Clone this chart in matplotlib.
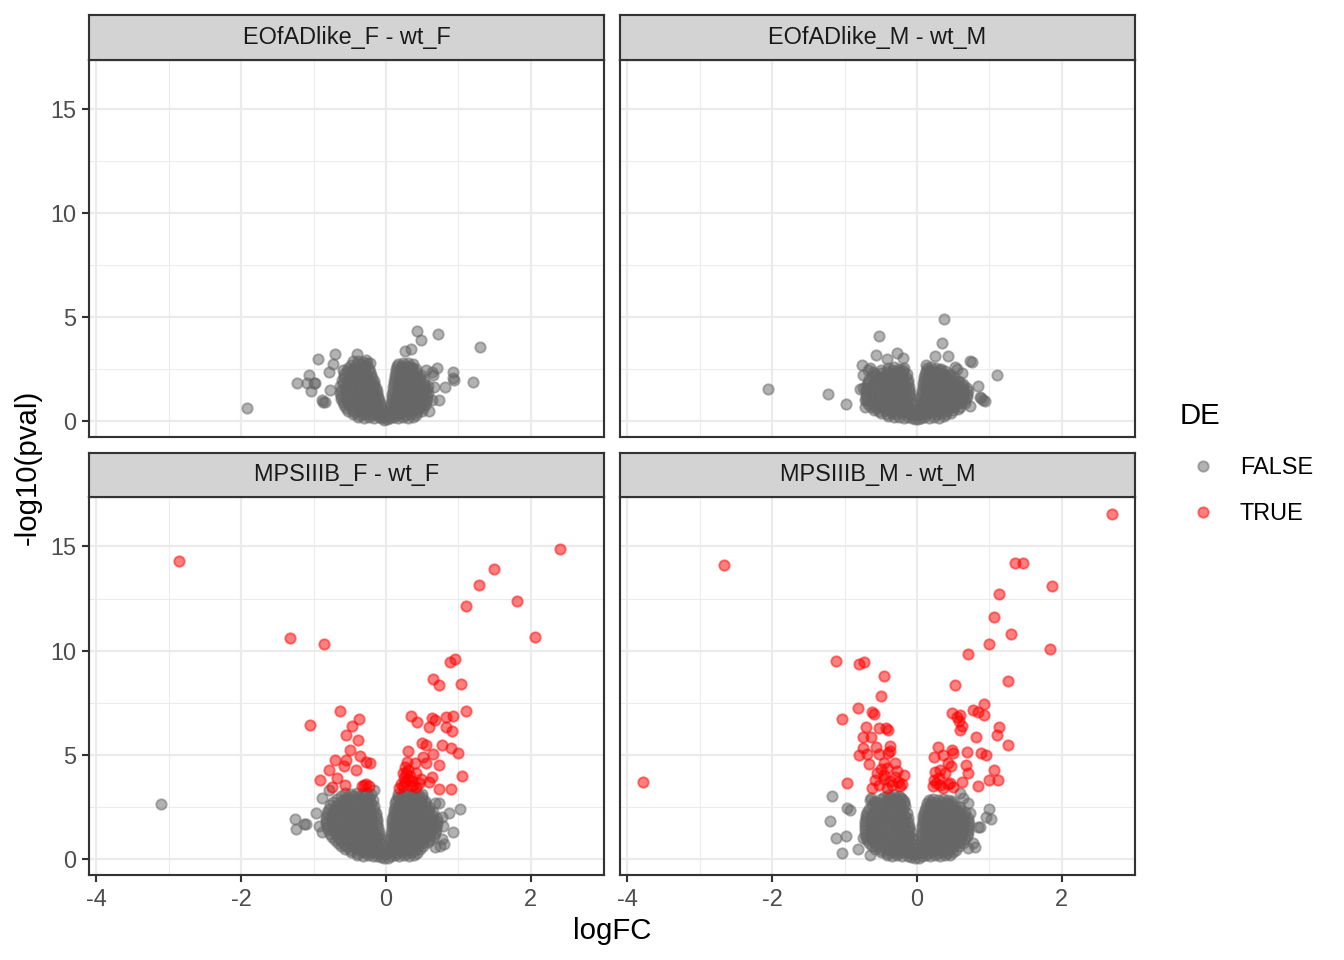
import numpy as np
import matplotlib
matplotlib.use("Agg")
import matplotlib.pyplot as plt
from matplotlib.colors import to_rgba
from matplotlib.lines import Line2D

plt.rcParams['font.family'] = ['Liberation Sans', 'DejaVu Sans']

# Data ------------------------------------------------------------------------

panel_titles = ["EOfADlike_F - wt_F", "EOfADlike_M - wt_M",
                "MPSIIIB_F - wt_F", "MPSIIIB_M - wt_M"]
de_levels = ["FALSE", "TRUE"]
de_colors = ["#666666", "#ff0000"]

# (logFC, -log10(pval)) per contrast, split by DE
ef_f_false = [
    (-1.92, 0.62), (0.43, 4.34), (0.72, 4.17), (0.48, 3.89), (1.30, 3.54), (1.21, 1.89),
    (0.93, 2.37), (0.94, 1.97), (0.82, 1.62), (0.74, 1.01), (0.70, 2.53), (0.63, 2.37),
    (0.26, 3.38), (0.35, 3.45), (-0.94, 2.98), (-0.70, 3.22), (-0.40, 3.22), (-0.73, 2.74),
    (-1.07, 2.21), (-1.23, 1.83), (-1.04, 1.46), (-0.87, 0.93), (-0.79, 2.37), (-0.98, 1.84),
    (-1.09, 1.81), (-1.00, 1.81), (-0.88, 1.00), (-0.84, 0.90), (-0.77, 1.49), (-0.59, 2.45),
    (-0.27, 2.93), (-0.22, 2.77), (0.56, 2.45), (0.65, 2.21), (0.67, 1.65), (0.64, 1.00),
    (0.60, 0.50), (0.92, 2.07),
    (-0.38, 0.20), (-0.31, 0.16), (-0.23, 0.19), (-0.16, 0.14), (-0.10, 0.17), (-0.05, 0.12), (-0.02, 0.06),
    (-0.52, 0.47), (-0.44, 0.42), (-0.36, 0.46), (-0.28, 0.43), (-0.21, 0.48), (-0.14, 0.41), (-0.08, 0.44), (-0.04, 0.36),
    (-0.58, 0.77), (-0.50, 0.73), (-0.42, 0.78), (-0.34, 0.72), (-0.27, 0.76), (-0.20, 0.71), (-0.13, 0.77), (-0.07, 0.70),
    (-0.62, 1.07), (-0.54, 1.03), (-0.46, 1.08), (-0.38, 1.02), (-0.30, 1.06), (-0.23, 1.01), (-0.16, 1.07), (-0.10, 1.00),
    (-0.63, 1.36), (-0.55, 1.33), (-0.47, 1.38), (-0.39, 1.32), (-0.31, 1.37), (-0.24, 1.31), (-0.17, 1.36), (-0.12, 1.30),
    (-0.63, 1.66), (-0.55, 1.62), (-0.47, 1.67), (-0.39, 1.61), (-0.31, 1.66), (-0.24, 1.63), (-0.17, 1.68), (-0.14, 1.58),
    (-0.61, 1.96), (-0.53, 1.92), (-0.45, 1.97), (-0.37, 1.91), (-0.30, 1.96), (-0.23, 1.93), (-0.17, 1.90),
    (-0.58, 2.26), (-0.50, 2.22), (-0.42, 2.27), (-0.34, 2.21), (-0.27, 2.25), (-0.20, 2.20),
    (-0.53, 2.56), (-0.45, 2.52), (-0.38, 2.57), (-0.30, 2.51), (-0.23, 2.50),
    (-0.46, 2.86), (-0.39, 2.90), (-0.32, 2.83), (-0.26, 2.78),
    (-0.45, 0.31), (-0.37, 0.29), (-0.30, 0.32), (-0.23, 0.28), (-0.16, 0.31), (-0.10, 0.29), (-0.05, 0.27), (-0.02, 0.22),
    (-0.55, 0.61), (-0.47, 0.58), (-0.39, 0.62), (-0.31, 0.59), (-0.24, 0.61), (-0.17, 0.58), (-0.11, 0.62), (-0.06, 0.56),
    (-0.60, 0.91), (-0.52, 0.88), (-0.44, 0.92), (-0.36, 0.89), (-0.28, 0.91), (-0.21, 0.88), (-0.14, 0.92), (-0.08, 0.86),
    (-0.62, 1.21), (-0.54, 1.18), (-0.46, 1.22), (-0.38, 1.19), (-0.30, 1.21), (-0.23, 1.18), (-0.16, 1.22), (-0.11, 1.16),
    (-0.62, 1.51), (-0.55, 1.48), (-0.47, 1.52), (-0.39, 1.49), (-0.31, 1.51), (-0.24, 1.48), (-0.18, 1.52), (-0.13, 1.46),
    (-0.60, 1.81), (-0.52, 1.78), (-0.44, 1.82), (-0.36, 1.79), (-0.28, 1.81), (-0.21, 1.78), (-0.16, 1.76),
    (-0.58, 2.11), (-0.50, 2.08), (-0.42, 2.12), (-0.34, 2.09), (-0.26, 2.11), (-0.19, 2.06),
    (-0.54, 2.41), (-0.46, 2.38), (-0.38, 2.42), (-0.30, 2.39), (-0.22, 2.36),
    (-0.48, 2.71), (-0.41, 2.68), (-0.34, 2.72), (-0.27, 2.66),
    (0.02, 0.07), (0.06, 0.15), (0.11, 0.19), (0.17, 0.14), (0.24, 0.18), (0.31, 0.13), (0.37, 0.20),
    (0.04, 0.38), (0.09, 0.46), (0.15, 0.42), (0.22, 0.47), (0.29, 0.43), (0.36, 0.48), (0.43, 0.42), (0.50, 0.46),
    (0.06, 0.71), (0.12, 0.77), (0.19, 0.73), (0.26, 0.78), (0.33, 0.72), (0.40, 0.77), (0.47, 0.73), (0.54, 0.76),
    (0.08, 1.01), (0.14, 1.07), (0.21, 1.03), (0.28, 1.08), (0.35, 1.02), (0.42, 1.07), (0.49, 1.03), (0.57, 1.06),
    (0.09, 1.31), (0.16, 1.37), (0.23, 1.33), (0.30, 1.38), (0.37, 1.32), (0.44, 1.37), (0.51, 1.33), (0.58, 1.36),
    (0.10, 1.61), (0.17, 1.67), (0.24, 1.63), (0.31, 1.68), (0.38, 1.62), (0.45, 1.67), (0.52, 1.63), (0.58, 1.66),
    (0.11, 1.91), (0.18, 1.97), (0.25, 1.93), (0.32, 1.98), (0.39, 1.92), (0.46, 1.96), (0.53, 1.92),
    (0.13, 2.21), (0.20, 2.27), (0.27, 2.23), (0.34, 2.28), (0.41, 2.22), (0.48, 2.20),
    (0.14, 2.49), (0.21, 2.55), (0.28, 2.51), (0.35, 2.56), (0.42, 2.48),
    (0.16, 2.76), (0.23, 2.81), (0.30, 2.77), (0.37, 2.74),
    (0.03, 0.26), (0.08, 0.31), (0.14, 0.29), (0.20, 0.32), (0.27, 0.28), (0.34, 0.31), (0.41, 0.29),
    (0.05, 0.56), (0.10, 0.61), (0.16, 0.58), (0.23, 0.62), (0.30, 0.59), (0.37, 0.61), (0.44, 0.58), (0.51, 0.62),
    (0.07, 0.86), (0.13, 0.91), (0.20, 0.88), (0.27, 0.92), (0.34, 0.89), (0.41, 0.91), (0.48, 0.88), (0.55, 0.92),
    (0.08, 1.16), (0.15, 1.21), (0.22, 1.18), (0.29, 1.22), (0.36, 1.19), (0.43, 1.21), (0.50, 1.18), (0.57, 1.22),
    (0.10, 1.46), (0.16, 1.51), (0.23, 1.48), (0.30, 1.52), (0.37, 1.49), (0.44, 1.51), (0.51, 1.48), (0.57, 1.52),
    (0.11, 1.76), (0.18, 1.81), (0.25, 1.78), (0.32, 1.82), (0.39, 1.79), (0.46, 1.81), (0.53, 1.78),
    (0.12, 2.06), (0.19, 2.11), (0.26, 2.08), (0.33, 2.12), (0.40, 2.09), (0.47, 2.07),
    (0.14, 2.36), (0.21, 2.41), (0.28, 2.38), (0.35, 2.42), (0.42, 2.36),
    (0.15, 2.62), (0.22, 2.66), (0.29, 2.63), (0.36, 2.60),
]
ef_f_true = []

ef_m_false = [
    (-2.06, 1.54), (-1.23, 1.31), (-0.98, 0.83), (-0.52, 4.10), (-0.57, 3.16), (-0.28, 3.25),
    (-0.19, 3.01), (-0.42, 2.97), (-0.76, 2.69), (-0.67, 2.45), (-0.74, 2.21), (-0.79, 1.52),
    (0.38, 4.89), (0.35, 3.73), (0.43, 3.13), (0.25, 3.13), (0.13, 2.69), (0.74, 2.90),
    (0.76, 2.85), (0.52, 2.61), (0.62, 2.29), (1.10, 2.23), (0.84, 1.70), (0.89, 1.09),
    (0.94, 0.96), (0.73, 0.72), (-0.65, 2.55), (-0.61, 2.36), (-0.74, 1.59), (-0.72, 1.01),
    (-0.72, 0.69), (0.87, 1.17), (0.91, 1.01), (0.55, 2.50),
    (-0.40, 0.22), (-0.32, 0.17), (-0.25, 0.21), (-0.18, 0.15), (-0.12, 0.19), (-0.07, 0.13), (-0.03, 0.08),
    (-0.60, 0.52), (-0.52, 0.47), (-0.44, 0.51), (-0.36, 0.46), (-0.28, 0.52), (-0.21, 0.47), (-0.14, 0.50), (-0.08, 0.45), (-0.04, 0.40),
    (-0.68, 0.82), (-0.60, 0.77), (-0.52, 0.81), (-0.44, 0.76), (-0.36, 0.82), (-0.28, 0.78), (-0.21, 0.83), (-0.14, 0.77), (-0.07, 0.80),
    (-0.70, 1.12), (-0.62, 1.07), (-0.54, 1.11), (-0.46, 1.06), (-0.38, 1.12), (-0.30, 1.08), (-0.23, 1.13), (-0.16, 1.07), (-0.09, 1.10),
    (-0.70, 1.42), (-0.62, 1.37), (-0.54, 1.41), (-0.46, 1.36), (-0.38, 1.42), (-0.30, 1.38), (-0.23, 1.43), (-0.16, 1.37), (-0.10, 1.34),
    (-0.69, 1.71), (-0.61, 1.67), (-0.53, 1.72), (-0.45, 1.66), (-0.37, 1.71), (-0.29, 1.68), (-0.22, 1.73), (-0.15, 1.67), (-0.11, 1.62),
    (-0.66, 2.01), (-0.58, 1.97), (-0.50, 2.02), (-0.42, 1.96), (-0.34, 2.01), (-0.26, 1.98), (-0.19, 2.03), (-0.13, 1.95),
    (-0.58, 2.28), (-0.50, 2.33), (-0.42, 2.27), (-0.34, 2.32), (-0.26, 2.29), (-0.19, 2.34), (-0.14, 2.26),
    (-0.40, 2.55), (-0.32, 2.58), (-0.25, 2.52), (-0.18, 2.56),
    (-0.50, 0.36), (-0.42, 0.33), (-0.34, 0.37), (-0.27, 0.34), (-0.20, 0.36), (-0.13, 0.33), (-0.08, 0.35), (-0.03, 0.28),
    (-0.64, 0.66), (-0.56, 0.63), (-0.48, 0.67), (-0.40, 0.64), (-0.32, 0.66), (-0.25, 0.63), (-0.18, 0.67), (-0.11, 0.64), (-0.05, 0.60),
    (-0.69, 0.96), (-0.61, 0.93), (-0.53, 0.97), (-0.45, 0.94), (-0.37, 0.96), (-0.29, 0.93), (-0.22, 0.97), (-0.15, 0.94), (-0.08, 0.92),
    (-0.70, 1.26), (-0.62, 1.23), (-0.54, 1.27), (-0.46, 1.24), (-0.38, 1.26), (-0.30, 1.23), (-0.23, 1.27), (-0.16, 1.24), (-0.10, 1.21),
    (-0.70, 1.56), (-0.62, 1.53), (-0.54, 1.57), (-0.46, 1.54), (-0.38, 1.56), (-0.30, 1.53), (-0.23, 1.57), (-0.16, 1.54), (-0.11, 1.50),
    (-0.67, 1.86), (-0.59, 1.83), (-0.51, 1.87), (-0.43, 1.84), (-0.35, 1.86), (-0.27, 1.83), (-0.20, 1.87), (-0.13, 1.82),
    (-0.62, 2.16), (-0.54, 2.13), (-0.46, 2.17), (-0.38, 2.14), (-0.30, 2.16), (-0.22, 2.13), (-0.15, 2.12),
    (-0.50, 2.43), (-0.42, 2.40), (-0.34, 2.44), (-0.26, 2.41), (-0.19, 2.43),
    (0.02, 0.08), (0.05, 0.16), (0.10, 0.20), (0.16, 0.15), (0.23, 0.21), (0.30, 0.16), (0.37, 0.22),
    (0.04, 0.42), (0.08, 0.50), (0.14, 0.46), (0.21, 0.52), (0.28, 0.47), (0.35, 0.51), (0.42, 0.46), (0.50, 0.52), (0.57, 0.55),
    (0.05, 0.76), (0.10, 0.82), (0.17, 0.77), (0.24, 0.83), (0.31, 0.78), (0.38, 0.82), (0.45, 0.77), (0.53, 0.81), (0.61, 0.84), (0.66, 0.88),
    (0.06, 1.06), (0.11, 1.12), (0.18, 1.07), (0.25, 1.13), (0.32, 1.08), (0.39, 1.12), (0.46, 1.07), (0.54, 1.11), (0.62, 1.08), (0.69, 1.13),
    (0.07, 1.36), (0.12, 1.42), (0.19, 1.37), (0.26, 1.43), (0.33, 1.38), (0.40, 1.42), (0.47, 1.37), (0.55, 1.41), (0.63, 1.38), (0.70, 1.42),
    (0.08, 1.66), (0.13, 1.72), (0.20, 1.67), (0.27, 1.73), (0.34, 1.68), (0.41, 1.72), (0.48, 1.67), (0.56, 1.71), (0.64, 1.66),
    (0.10, 1.96), (0.15, 2.02), (0.22, 1.97), (0.29, 2.03), (0.36, 1.98), (0.43, 2.02), (0.50, 1.97), (0.58, 1.94),
    (0.11, 2.26), (0.17, 2.32), (0.24, 2.27), (0.31, 2.33), (0.38, 2.28), (0.45, 2.25),
    (0.14, 2.54), (0.20, 2.58), (0.27, 2.53), (0.33, 2.50),
    (0.03, 0.31), (0.07, 0.36), (0.12, 0.33), (0.19, 0.37), (0.26, 0.34), (0.33, 0.36), (0.40, 0.33), (0.47, 0.37),
    (0.04, 0.61), (0.09, 0.66), (0.15, 0.63), (0.22, 0.67), (0.29, 0.64), (0.36, 0.66), (0.43, 0.63), (0.51, 0.67), (0.59, 0.69),
    (0.05, 0.91), (0.10, 0.96), (0.17, 0.93), (0.24, 0.97), (0.31, 0.94), (0.38, 0.96), (0.45, 0.93), (0.53, 0.97), (0.61, 0.94), (0.67, 0.99),
    (0.06, 1.21), (0.12, 1.26), (0.19, 1.23), (0.26, 1.27), (0.33, 1.24), (0.40, 1.26), (0.47, 1.23), (0.55, 1.27), (0.63, 1.24), (0.69, 1.28),
    (0.07, 1.51), (0.13, 1.56), (0.20, 1.53), (0.27, 1.57), (0.34, 1.54), (0.41, 1.56), (0.48, 1.53), (0.56, 1.57), (0.64, 1.54), (0.69, 1.57),
    (0.09, 1.81), (0.14, 1.86), (0.21, 1.83), (0.28, 1.87), (0.35, 1.84), (0.42, 1.86), (0.49, 1.83), (0.57, 1.85), (0.63, 1.80),
    (0.10, 2.11), (0.16, 2.16), (0.23, 2.13), (0.30, 2.17), (0.37, 2.14), (0.44, 2.15), (0.51, 2.10),
    (0.12, 2.39), (0.18, 2.43), (0.25, 2.40), (0.32, 2.44), (0.39, 2.39),
]
ef_m_true = []

mp_f_false = [
    (-3.11, 2.65), (-1.26, 1.89), (-1.24, 1.41), (-1.13, 1.65), (-1.10, 1.67), (-0.96, 2.21),
    (1.02, 2.40), (0.93, 1.30), (0.77, 2.00), (0.79, 1.60), (0.78, 0.95), (0.80, 0.70),
    (-0.88, 2.90), (-0.88, 1.30), (-0.92, 1.60), (-0.78, 3.30), (-0.16, 3.30), (0.68, 2.66),
    (0.73, 2.66), (0.87, 2.18), (0.68, 0.58), (0.75, 0.63),
    (-0.40, 0.18), (-0.32, 0.13), (-0.25, 0.17), (-0.18, 0.12), (-0.12, 0.16), (-0.07, 0.10), (-0.03, 0.05),
    (-0.56, 0.47), (-0.48, 0.42), (-0.40, 0.46), (-0.32, 0.41), (-0.25, 0.47), (-0.18, 0.43), (-0.12, 0.48), (-0.07, 0.40), (-0.04, 0.33),
    (-0.66, 0.77), (-0.58, 0.72), (-0.50, 0.76), (-0.42, 0.71), (-0.34, 0.77), (-0.27, 0.73), (-0.20, 0.78), (-0.13, 0.72), (-0.07, 0.70),
    (-0.74, 1.07), (-0.66, 1.02), (-0.58, 1.06), (-0.50, 1.01), (-0.42, 1.07), (-0.34, 1.03), (-0.27, 1.08), (-0.20, 1.02), (-0.13, 1.06), (-0.08, 1.00),
    (-0.80, 1.37), (-0.72, 1.32), (-0.64, 1.36), (-0.56, 1.31), (-0.48, 1.37), (-0.40, 1.33), (-0.32, 1.38), (-0.25, 1.32), (-0.18, 1.36), (-0.10, 1.30),
    (-0.83, 1.67), (-0.75, 1.62), (-0.67, 1.66), (-0.59, 1.61), (-0.51, 1.67), (-0.43, 1.63), (-0.35, 1.68), (-0.28, 1.62), (-0.21, 1.66), (-0.12, 1.62),
    (-0.83, 1.97), (-0.75, 1.92), (-0.67, 1.96), (-0.59, 1.91), (-0.51, 1.97), (-0.43, 1.93), (-0.35, 1.98), (-0.28, 1.92), (-0.21, 1.96), (-0.13, 1.92),
    (-0.81, 2.27), (-0.73, 2.22), (-0.65, 2.26), (-0.57, 2.21), (-0.49, 2.27), (-0.41, 2.23), (-0.33, 2.28), (-0.26, 2.22), (-0.20, 2.26), (-0.14, 2.20),
    (-0.77, 2.57), (-0.69, 2.52), (-0.61, 2.56), (-0.53, 2.51), (-0.45, 2.57), (-0.37, 2.53), (-0.30, 2.58), (-0.23, 2.52), (-0.17, 2.55),
    (-0.68, 2.87), (-0.60, 2.82), (-0.52, 2.86), (-0.44, 2.81), (-0.36, 2.87), (-0.29, 2.83), (-0.23, 2.88), (-0.18, 2.82),
    (-0.56, 3.17), (-0.48, 3.12), (-0.40, 3.16), (-0.33, 3.12), (-0.26, 3.18), (-0.21, 3.13),
    (-0.48, 0.31), (-0.40, 0.28), (-0.32, 0.32), (-0.25, 0.29), (-0.18, 0.31), (-0.12, 0.28), (-0.07, 0.30), (-0.03, 0.22),
    (-0.62, 0.61), (-0.54, 0.58), (-0.46, 0.62), (-0.38, 0.59), (-0.30, 0.61), (-0.23, 0.58), (-0.16, 0.62), (-0.10, 0.59), (-0.05, 0.54),
    (-0.70, 0.91), (-0.62, 0.88), (-0.54, 0.92), (-0.46, 0.89), (-0.38, 0.91), (-0.30, 0.88), (-0.23, 0.92), (-0.16, 0.89), (-0.10, 0.86),
    (-0.77, 1.21), (-0.69, 1.18), (-0.61, 1.22), (-0.53, 1.19), (-0.45, 1.21), (-0.37, 1.18), (-0.30, 1.22), (-0.23, 1.19), (-0.16, 1.21), (-0.09, 1.16),
    (-0.81, 1.51), (-0.73, 1.48), (-0.65, 1.52), (-0.57, 1.49), (-0.49, 1.51), (-0.41, 1.48), (-0.33, 1.52), (-0.26, 1.49), (-0.19, 1.51), (-0.11, 1.46),
    (-0.83, 1.81), (-0.75, 1.78), (-0.67, 1.82), (-0.59, 1.79), (-0.51, 1.81), (-0.43, 1.78), (-0.35, 1.82), (-0.28, 1.79), (-0.20, 1.81), (-0.13, 1.77),
    (-0.82, 2.11), (-0.74, 2.08), (-0.66, 2.12), (-0.58, 2.09), (-0.50, 2.11), (-0.42, 2.08), (-0.34, 2.12), (-0.27, 2.09), (-0.20, 2.11), (-0.14, 2.06),
    (-0.79, 2.41), (-0.71, 2.38), (-0.63, 2.42), (-0.55, 2.39), (-0.47, 2.41), (-0.39, 2.38), (-0.31, 2.42), (-0.24, 2.39), (-0.17, 2.37),
    (-0.73, 2.71), (-0.65, 2.68), (-0.57, 2.72), (-0.49, 2.69), (-0.41, 2.71), (-0.33, 2.68), (-0.26, 2.72), (-0.20, 2.67),
    (-0.62, 3.01), (-0.54, 2.98), (-0.46, 3.02), (-0.38, 2.99), (-0.30, 3.01), (-0.24, 2.97),
    (0.03, 0.06), (0.07, 0.13), (0.12, 0.17), (0.18, 0.12), (0.25, 0.18), (0.32, 0.13), (0.39, 0.17),
    (0.04, 0.36), (0.08, 0.45), (0.13, 0.41), (0.19, 0.47), (0.26, 0.42), (0.33, 0.46), (0.40, 0.41), (0.47, 0.47),
    (0.05, 0.70), (0.10, 0.77), (0.16, 0.72), (0.23, 0.78), (0.30, 0.73), (0.37, 0.77), (0.44, 0.72), (0.51, 0.76), (0.58, 0.80),
    (0.06, 1.01), (0.11, 1.07), (0.18, 1.02), (0.25, 1.08), (0.32, 1.03), (0.39, 1.07), (0.46, 1.02), (0.53, 1.06), (0.61, 1.03), (0.67, 1.08),
    (0.07, 1.31), (0.12, 1.37), (0.19, 1.32), (0.26, 1.38), (0.33, 1.33), (0.40, 1.37), (0.47, 1.32), (0.54, 1.36), (0.62, 1.33), (0.69, 1.38),
    (0.08, 1.61), (0.13, 1.67), (0.20, 1.62), (0.27, 1.68), (0.34, 1.63), (0.41, 1.67), (0.48, 1.62), (0.55, 1.66), (0.63, 1.63), (0.70, 1.68),
    (0.09, 1.91), (0.14, 1.97), (0.21, 1.92), (0.28, 1.98), (0.35, 1.93), (0.42, 1.97), (0.49, 1.92), (0.56, 1.96), (0.64, 1.93), (0.70, 1.98),
    (0.11, 2.21), (0.16, 2.27), (0.23, 2.22), (0.30, 2.28), (0.37, 2.23), (0.44, 2.27), (0.51, 2.22), (0.58, 2.26), (0.65, 2.23),
    (0.12, 2.51), (0.18, 2.57), (0.25, 2.52), (0.32, 2.58), (0.39, 2.53), (0.46, 2.57), (0.53, 2.52), (0.60, 2.50),
    (0.14, 2.81), (0.20, 2.87), (0.27, 2.82), (0.34, 2.88), (0.41, 2.83), (0.48, 2.86), (0.54, 2.80),
    (0.17, 3.12), (0.23, 3.17), (0.30, 3.13), (0.37, 3.18), (0.44, 3.12), (0.50, 3.10),
    (0.04, 0.26), (0.09, 0.31), (0.15, 0.28), (0.22, 0.32), (0.29, 0.29), (0.36, 0.31), (0.43, 0.30),
    (0.05, 0.56), (0.10, 0.61), (0.16, 0.58), (0.23, 0.62), (0.30, 0.59), (0.37, 0.61), (0.44, 0.58), (0.51, 0.62),
    (0.06, 0.86), (0.11, 0.91), (0.18, 0.88), (0.25, 0.92), (0.32, 0.89), (0.39, 0.91), (0.46, 0.88), (0.53, 0.92), (0.61, 0.90),
    (0.07, 1.16), (0.12, 1.21), (0.19, 1.18), (0.26, 1.22), (0.33, 1.19), (0.40, 1.21), (0.47, 1.18), (0.54, 1.22), (0.61, 1.19), (0.68, 1.23),
    (0.08, 1.46), (0.13, 1.51), (0.20, 1.48), (0.27, 1.52), (0.34, 1.49), (0.41, 1.51), (0.48, 1.48), (0.55, 1.52), (0.62, 1.49), (0.69, 1.53),
    (0.09, 1.76), (0.14, 1.81), (0.21, 1.78), (0.28, 1.82), (0.35, 1.79), (0.42, 1.81), (0.49, 1.78), (0.56, 1.82), (0.63, 1.79), (0.70, 1.83),
    (0.10, 2.06), (0.15, 2.11), (0.22, 2.08), (0.29, 2.12), (0.36, 2.09), (0.43, 2.11), (0.50, 2.08), (0.57, 2.12), (0.64, 2.09),
    (0.11, 2.36), (0.17, 2.41), (0.24, 2.38), (0.31, 2.42), (0.38, 2.39), (0.45, 2.41), (0.52, 2.38), (0.59, 2.37),
    (0.13, 2.66), (0.19, 2.71), (0.26, 2.68), (0.33, 2.72), (0.40, 2.69), (0.47, 2.71), (0.54, 2.66),
    (0.16, 2.96), (0.22, 3.01), (0.29, 2.98), (0.36, 3.02), (0.43, 2.99), (0.50, 2.96),
]
mp_f_true = [
    (-2.86, 14.31), (2.40, 14.89), (1.49, 13.90), (1.29, 13.14), (1.11, 12.12), (1.81, 12.38),
    (2.06, 10.67), (-1.33, 10.62), (-0.86, 10.30), (0.96, 9.62), (0.89, 9.47), (0.65, 8.62),
    (0.73, 8.37), (1.04, 8.38), (1.10, 7.08), (-0.63, 7.08), (-1.05, 6.41), (-0.37, 6.71),
    (-0.47, 6.39), (-0.55, 5.93), (-0.39, 5.69), (-0.49, 5.22), (-0.36, 4.96), (-0.55, 4.74),
    (-0.71, 4.76), (-0.58, 4.48), (-0.28, 4.63), (-0.22, 4.60), (-0.79, 4.26), (-0.41, 4.29),
    (-0.67, 3.89), (-0.91, 3.78), (-0.56, 3.57), (-0.74, 3.43), (-0.30, 3.55), (-0.27, 3.58),
    (-0.33, 3.50), (-0.24, 3.52),
    (0.34, 6.85), (0.43, 6.59), (0.64, 6.78), (0.68, 6.69), (0.59, 6.35), (0.83, 6.79),
    (0.93, 6.85), (0.83, 6.35), (0.91, 6.12), (0.50, 5.54), (0.55, 5.49), (0.78, 5.48),
    (0.90, 5.30), (0.99, 5.07), (0.31, 5.19), (0.65, 5.05), (0.51, 4.90), (0.29, 4.66),
    (0.40, 4.58), (0.56, 4.58), (0.74, 4.50), (0.27, 4.40), (0.28, 4.10), (0.24, 4.10),
    (0.33, 3.98), (0.41, 4.10), (0.64, 3.94), (1.05, 3.97), (0.49, 3.85), (0.59, 3.70),
    (0.73, 3.37), (0.90, 3.37), (0.45, 3.62), (0.37, 3.55), (0.23, 3.48), (0.18, 3.40),
    (0.27, 3.70), (0.31, 3.85), (0.35, 3.50), (0.21, 3.60), (0.30, 4.25), (0.36, 3.75),
    (0.42, 3.45), (0.25, 3.90),
]

mp_m_false = [
    (-1.17, 3.04), (-0.96, 2.45), (-0.93, 2.34), (-1.20, 1.81), (-1.12, 1.02), (-0.98, 1.09),
    (-1.03, 0.29), (-0.81, 0.47), (-0.65, 2.82), (0.99, 2.38), (0.96, 1.99), (1.02, 1.89),
    (0.84, 1.54), (0.78, 0.74), (0.71, 0.50), (0.59, 3.14), (0.71, 2.66), (-0.75, 1.00),
    (-0.65, 0.20), (-0.63, 2.90), (-0.60, 2.74), (0.64, 2.90), (0.73, 2.18), (0.87, 1.54),
    (0.80, 0.58),
    (-0.42, 0.18), (-0.34, 0.13), (-0.27, 0.17), (-0.20, 0.12), (-0.13, 0.16), (-0.08, 0.10), (-0.03, 0.05),
    (-0.58, 0.47), (-0.50, 0.42), (-0.42, 0.46), (-0.34, 0.41), (-0.27, 0.47), (-0.20, 0.43), (-0.13, 0.48), (-0.08, 0.40), (-0.04, 0.33),
    (-0.66, 0.77), (-0.58, 0.72), (-0.50, 0.76), (-0.42, 0.71), (-0.34, 0.77), (-0.27, 0.73), (-0.20, 0.78), (-0.13, 0.72), (-0.07, 0.70),
    (-0.71, 1.07), (-0.63, 1.02), (-0.55, 1.06), (-0.47, 1.01), (-0.39, 1.07), (-0.31, 1.03), (-0.24, 1.08), (-0.17, 1.02), (-0.11, 1.06), (-0.07, 0.98),
    (-0.72, 1.37), (-0.64, 1.32), (-0.56, 1.36), (-0.48, 1.31), (-0.40, 1.37), (-0.32, 1.33), (-0.25, 1.38), (-0.18, 1.32), (-0.12, 1.36), (-0.08, 1.28),
    (-0.72, 1.67), (-0.64, 1.62), (-0.56, 1.66), (-0.48, 1.61), (-0.40, 1.67), (-0.32, 1.63), (-0.25, 1.68), (-0.18, 1.62), (-0.11, 1.60),
    (-0.71, 1.97), (-0.63, 1.92), (-0.55, 1.96), (-0.47, 1.91), (-0.39, 1.97), (-0.31, 1.93), (-0.24, 1.98), (-0.17, 1.92), (-0.12, 1.96),
    (-0.69, 2.27), (-0.61, 2.22), (-0.53, 2.26), (-0.45, 2.21), (-0.37, 2.27), (-0.29, 2.23), (-0.22, 2.28), (-0.14, 2.22),
    (-0.62, 2.57), (-0.54, 2.52), (-0.46, 2.56), (-0.38, 2.51), (-0.30, 2.57), (-0.23, 2.53), (-0.16, 2.55),
    (-0.50, 2.87), (-0.42, 2.82), (-0.35, 2.86), (-0.28, 2.81), (-0.21, 2.86), (-0.18, 2.80),
    (-0.40, 3.05), (-0.32, 3.08), (-0.25, 3.03),
    (-0.50, 0.31), (-0.42, 0.28), (-0.34, 0.32), (-0.27, 0.29), (-0.20, 0.31), (-0.13, 0.28), (-0.08, 0.30), (-0.03, 0.22),
    (-0.62, 0.61), (-0.54, 0.58), (-0.46, 0.62), (-0.38, 0.59), (-0.30, 0.61), (-0.23, 0.58), (-0.16, 0.62), (-0.10, 0.59), (-0.05, 0.54),
    (-0.69, 0.91), (-0.61, 0.88), (-0.53, 0.92), (-0.45, 0.89), (-0.37, 0.91), (-0.29, 0.88), (-0.22, 0.92), (-0.15, 0.89), (-0.09, 0.86),
    (-0.72, 1.21), (-0.64, 1.18), (-0.56, 1.22), (-0.48, 1.19), (-0.40, 1.21), (-0.32, 1.18), (-0.25, 1.22), (-0.18, 1.19), (-0.11, 1.16),
    (-0.72, 1.51), (-0.64, 1.48), (-0.56, 1.52), (-0.48, 1.49), (-0.40, 1.51), (-0.32, 1.48), (-0.25, 1.52), (-0.18, 1.49), (-0.11, 1.46),
    (-0.72, 1.81), (-0.64, 1.78), (-0.56, 1.82), (-0.48, 1.79), (-0.40, 1.81), (-0.32, 1.78), (-0.25, 1.82), (-0.18, 1.79), (-0.12, 1.76),
    (-0.70, 2.11), (-0.62, 2.08), (-0.54, 2.12), (-0.46, 2.09), (-0.38, 2.11), (-0.30, 2.08), (-0.23, 2.12), (-0.16, 2.07),
    (-0.66, 2.41), (-0.58, 2.38), (-0.50, 2.42), (-0.42, 2.39), (-0.34, 2.41), (-0.26, 2.38), (-0.19, 2.40),
    (-0.56, 2.71), (-0.48, 2.68), (-0.40, 2.72), (-0.32, 2.69), (-0.25, 2.71), (-0.18, 2.67),
    (-0.45, 2.95), (-0.37, 2.97), (-0.29, 2.94), (-0.22, 2.93),
    (0.03, 0.06), (0.07, 0.13), (0.12, 0.17), (0.18, 0.12), (0.25, 0.18), (0.32, 0.13), (0.39, 0.17), (0.46, 0.20),
    (0.04, 0.36), (0.08, 0.45), (0.13, 0.41), (0.19, 0.47), (0.26, 0.42), (0.33, 0.46), (0.40, 0.41), (0.47, 0.47), (0.54, 0.44),
    (0.05, 0.70), (0.10, 0.77), (0.16, 0.72), (0.23, 0.78), (0.30, 0.73), (0.37, 0.77), (0.44, 0.72), (0.51, 0.76), (0.58, 0.80), (0.64, 0.74),
    (0.06, 1.01), (0.11, 1.07), (0.18, 1.02), (0.25, 1.08), (0.32, 1.03), (0.39, 1.07), (0.46, 1.02), (0.53, 1.06), (0.61, 1.03), (0.69, 1.08),
    (0.07, 1.31), (0.12, 1.37), (0.19, 1.32), (0.26, 1.38), (0.33, 1.33), (0.40, 1.37), (0.47, 1.32), (0.54, 1.36), (0.62, 1.33), (0.71, 1.38),
    (0.07, 1.61), (0.13, 1.67), (0.20, 1.62), (0.27, 1.68), (0.34, 1.63), (0.41, 1.67), (0.48, 1.62), (0.55, 1.66), (0.63, 1.63), (0.72, 1.68),
    (0.08, 1.91), (0.14, 1.97), (0.21, 1.92), (0.28, 1.98), (0.35, 1.93), (0.42, 1.97), (0.49, 1.92), (0.56, 1.96), (0.64, 1.93), (0.71, 1.98),
    (0.10, 2.21), (0.16, 2.27), (0.23, 2.22), (0.30, 2.28), (0.37, 2.23), (0.44, 2.27), (0.51, 2.22), (0.58, 2.26), (0.66, 2.23),
    (0.12, 2.51), (0.18, 2.57), (0.25, 2.52), (0.32, 2.58), (0.39, 2.53), (0.46, 2.57), (0.53, 2.52), (0.60, 2.50),
    (0.16, 2.81), (0.22, 2.87), (0.29, 2.82), (0.36, 2.88), (0.43, 2.83), (0.49, 2.80),
    (0.04, 0.26), (0.09, 0.31), (0.15, 0.28), (0.22, 0.32), (0.29, 0.29), (0.36, 0.31), (0.43, 0.28), (0.50, 0.32),
    (0.05, 0.56), (0.10, 0.61), (0.16, 0.58), (0.23, 0.62), (0.30, 0.59), (0.37, 0.61), (0.44, 0.58), (0.51, 0.62), (0.58, 0.60),
    (0.06, 0.86), (0.11, 0.91), (0.18, 0.88), (0.25, 0.92), (0.32, 0.89), (0.39, 0.91), (0.46, 0.88), (0.53, 0.92), (0.60, 0.89), (0.67, 0.93),
    (0.06, 1.16), (0.12, 1.21), (0.19, 1.18), (0.26, 1.22), (0.33, 1.19), (0.40, 1.21), (0.47, 1.18), (0.54, 1.22), (0.62, 1.19), (0.70, 1.23),
    (0.07, 1.46), (0.13, 1.51), (0.20, 1.48), (0.27, 1.52), (0.34, 1.49), (0.41, 1.51), (0.48, 1.48), (0.55, 1.52), (0.63, 1.49), (0.71, 1.53),
    (0.08, 1.76), (0.14, 1.81), (0.21, 1.78), (0.28, 1.82), (0.35, 1.79), (0.42, 1.81), (0.49, 1.78), (0.56, 1.82), (0.64, 1.79), (0.71, 1.83),
    (0.09, 2.06), (0.15, 2.11), (0.22, 2.08), (0.29, 2.12), (0.36, 2.09), (0.43, 2.11), (0.50, 2.08), (0.57, 2.12), (0.65, 2.09),
    (0.11, 2.36), (0.17, 2.41), (0.24, 2.38), (0.31, 2.42), (0.38, 2.39), (0.45, 2.41), (0.52, 2.38), (0.59, 2.37),
    (0.14, 2.66), (0.20, 2.71), (0.27, 2.68), (0.34, 2.72), (0.41, 2.69), (0.48, 2.66),
]
mp_m_true = [
    (2.69, 16.55), (-2.67, 14.09), (-3.78, 3.70), (1.36, 14.20), (1.47, 14.20), (1.86, 13.11),
    (1.14, 12.72), (1.07, 11.60), (1.30, 10.80), (0.99, 10.30), (1.84, 10.08), (0.71, 9.84),
    (-1.12, 9.52), (-0.80, 9.34), (-0.73, 9.47), (-0.46, 8.78), (0.52, 8.35), (1.26, 8.54),
    (-0.49, 7.82), (-0.82, 7.23), (-1.04, 6.72), (-0.62, 7.07), (-0.59, 6.96), (-0.70, 6.31),
    (-0.52, 6.30), (-0.43, 6.30), (-0.40, 6.20), (-0.75, 5.83), (-0.64, 5.87), (-0.74, 5.30),
    (-0.57, 5.35), (-0.37, 5.43), (-0.37, 5.19), (-0.80, 5.00), (-0.69, 5.05), (-0.53, 5.05),
    (-0.40, 5.10), (-0.66, 4.55), (-0.46, 4.58), (-0.31, 4.58), (-0.97, 3.62),
    (-0.50, 4.30), (-0.41, 4.35), (-0.28, 4.20), (-0.18, 4.05), (-0.46, 3.85), (-0.37, 3.75),
    (-0.26, 3.70), (-0.24, 3.50), (-0.58, 3.80), (-0.62, 3.40), (-0.53, 3.55), (-0.42, 3.40),
    (-0.35, 3.55), (-0.30, 3.95), (-0.20, 3.60), (-0.55, 4.10), (-0.45, 4.05),
    (0.49, 6.98), (0.56, 6.80), (0.58, 6.60), (0.60, 6.20), (0.62, 6.40), (0.59, 6.90),
    (0.78, 7.15), (0.85, 7.03), (0.93, 7.44), (0.93, 6.93), (1.14, 6.35), (1.11, 5.95),
    (0.82, 5.83), (1.26, 5.48), (0.29, 5.35), (0.48, 5.22), (0.50, 5.06), (0.69, 5.14),
    (0.88, 5.06), (0.95, 4.98), (0.24, 4.87), (0.36, 4.97), (0.43, 4.58), (0.47, 4.45),
    (0.68, 4.53), (0.70, 4.13), (0.25, 4.18), (0.32, 4.26), (0.23, 3.81), (0.39, 4.10),
    (0.46, 3.62), (0.62, 3.70), (0.84, 3.52), (1.06, 4.26), (0.99, 3.78), (1.12, 3.78),
    (0.22, 3.50), (0.32, 3.55), (0.43, 3.60), (0.50, 3.45), (0.30, 3.90), (0.36, 3.40),
    (0.27, 3.65),
]

panels = [(ef_f_false, ef_f_true), (ef_m_false, ef_m_true),
          (mp_f_false, mp_f_true), (mp_m_false, mp_m_true)]

x_breaks = [-4, -2, 0, 2]
x_minor = [-3, -1, 1, 3]
y_breaks = [0, 5, 10, 15]
y_minor = [2.5, 7.5, 12.5]

# Layout (pixels of the 1344x960 canvas) --------------------------------------

W, H = 1344, 960
col_px = [(89, 604), (620, 1135)]
row_px = [(60, 437), (497, 875)]
strip_px = [(15, 60), (453, 497)]


def box(x0, y0, x1, y1):
    return [x0 / W, 1 - y1 / H, (x1 - x0) / W, (y1 - y0) / H]


# shared (fixed) scales with ggplot's 5% expansion
all_pts = np.array([p for pair in panels for grp in pair for p in grp])
xlo, xhi = all_pts[:, 0].min(), all_pts[:, 0].max()
ylo, yhi = all_pts[:, 1].min(), all_pts[:, 1].max()
xpad, ypad = 0.05 * (xhi - xlo), 0.05 * (yhi - ylo)

fig = plt.figure(figsize=(7, 5), dpi=192)

line_w = 0.8
for i, title in enumerate(panel_titles):
    r, c = divmod(i, 2)
    x0, x1 = col_px[c]
    y0, y1 = row_px[r]
    ax = fig.add_axes(box(x0, y0, x1, y1))
    ax.set_facecolor("white")
    ax.set_xlim(xlo - xpad, xhi + xpad)
    ax.set_ylim(ylo - ypad, yhi + ypad)
    ax.set_xticks(x_breaks)
    ax.set_xticks([m for m in x_minor if xlo - xpad < m < xhi + xpad], minor=True)
    ax.set_yticks(y_breaks)
    ax.set_yticks(y_minor, minor=True)
    ax.set_xticklabels([str(v) for v in x_breaks])
    ax.set_yticklabels([str(v) for v in y_breaks])
    ax.set_axisbelow(True)
    ax.grid(which="major", color="#ebebeb", linewidth=line_w)
    ax.grid(which="minor", color="#ebebeb", linewidth=line_w / 2)
    ax.tick_params(which="minor", length=0)
    ax.tick_params(which="major", length=2.75, width=line_w, color="#333333",
                   labelsize=8.8, labelcolor="#4d4d4d", pad=2.2)
    if r == 0:
        ax.tick_params(axis="x", which="major", length=0, labelbottom=False)
    if c == 1:
        ax.tick_params(axis="y", which="major", length=0, labelleft=False)
    for sp in ax.spines.values():
        sp.set_color("#333333")
        sp.set_linewidth(line_w)
        sp.set_zorder(5)

    for grp, col in zip(panels[i], de_colors):
        if len(grp) == 0:
            continue
        pts = np.array(grp)
        rgba = to_rgba(col, 0.5)
        ax.scatter(pts[:, 0], pts[:, 1], s=3.9 ** 2, facecolors=[rgba],
                   edgecolors=[rgba], linewidths=0.7, zorder=2)

    # facet strip
    sy0, sy1 = strip_px[r]
    sax = fig.add_axes(box(x0, sy0, x1, sy1))
    sax.set_facecolor("#d3d3d3")
    sax.set_xticks([])
    sax.set_yticks([])
    for sp in sax.spines.values():
        sp.set_color("#333333")
        sp.set_linewidth(line_w)
    sax.text(0.5, 0.5, title, ha="center", va="center", fontsize=8.8,
             color="#1a1a1a", transform=sax.transAxes)

# axis titles
fig.text(612 / W, 1 - 931 / H, "logFC", ha="center", va="center", fontsize=11)
fig.text(28 / W, 1 - 467 / H, "-log10(pval)", ha="center", va="center",
         rotation=90, fontsize=11)

# legend
fig.text(1180 / W, 1 - 416 / H, "DE", ha="left", va="center", fontsize=11)
for lvl, col, ky in zip(de_levels, de_colors, [466, 512]):
    rgba = to_rgba(col, 0.5)
    fig.add_artist(Line2D([1203 / W], [1 - ky / H], transform=fig.transFigure,
                          marker="o", markersize=3.9, markerfacecolor=rgba,
                          markeredgecolor=rgba, markeredgewidth=0.7,
                          linestyle=""))
    fig.text(1240 / W, 1 - (ky + 1) / H, lvl, ha="left", va="center", fontsize=8.8)

fig.savefig("out.png", dpi=192)
